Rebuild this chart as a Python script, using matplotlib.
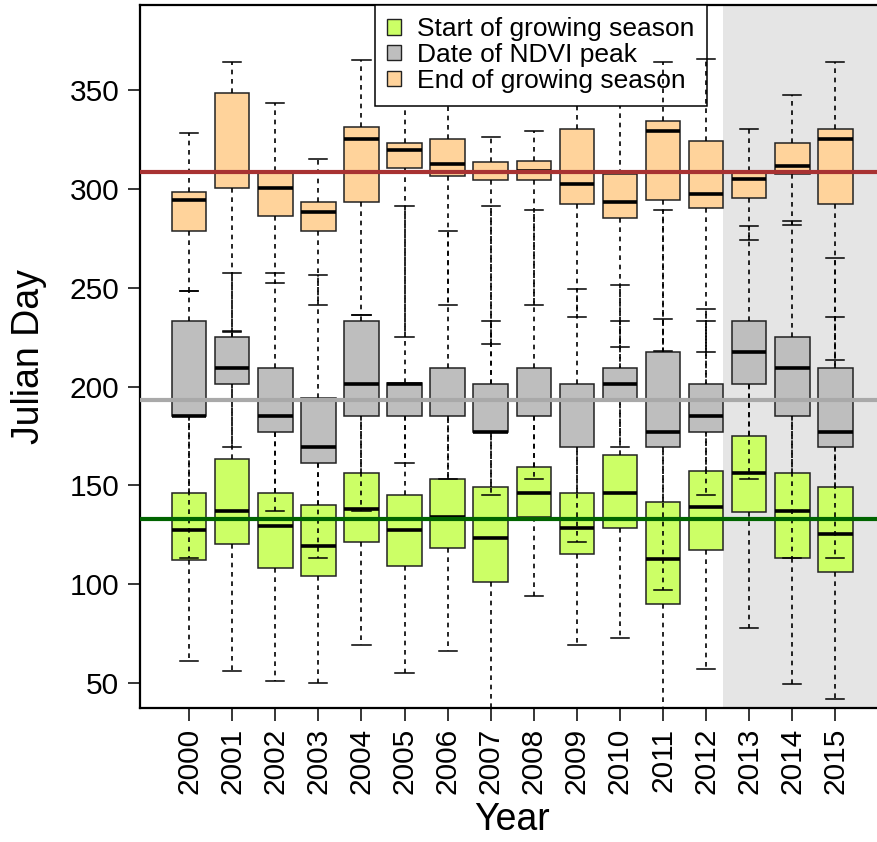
import matplotlib
matplotlib.use("Agg")
import matplotlib.pyplot as plt
from matplotlib.patches import Patch

plt.rcParams['font.family'] = ['Liberation Sans', 'DejaVu Sans']

years = list(range(2000, 2016))

# start of growing season (green)
sos_lo = [61.2, 56.3, 51.2, 50.2, 69.1, 55.3, 66.1, 30.0, 94.2, 69.1, 73.0, 30.0, 57.2, 78.1, 49.3, 42.1]
sos_q1 = [112.3, 120.2, 108.1, 104.2, 121.2, 109.2, 118.2, 101.2, 134.0, 115.1, 128.2, 90.0, 117.2, 136.7, 113.3, 106.2]
sos_med = [127.3, 137.2, 129.2, 119.2, 138.2, 127.3, 134.2, 123.2, 146.2, 128.2, 146.2, 113.0, 139.2, 156.3, 137.2, 125.2]
sos_q3 = [146.3, 163.2, 146.3, 140.2, 156.3, 145.2, 153.2, 149.2, 159.3, 146.3, 165.2, 141.8, 157.1, 175.2, 156.3, 149.2]
sos_hi = [200, 228.1, 195, 175, 200, 193, 195, 233.3, 195, 185, 233.2, 234.2, 233.3, 215, 200, 235.3]

# date of NDVI peak (grey)
peak_lo = [113.4, 169.3, 137.2, 113.4, 137.2, 161.1, 153.2, 145.3, 153.2, 121.2, 169.4, 97.1, 145.3, 153.2, 113.3, 113.3]
peak_q1 = [185.3, 201.3, 177.2, 161.1, 185.3, 185.3, 185.3, 177.2, 185.3, 169.3, 193.3, 169.4, 177.2, 201.3, 185.3, 169.4]
peak_med = [185.3, 209.2, 185.3, 169.3, 201.3, 201.3, 193.3, 177.2, 193.3, 193.3, 201.3, 177.2, 185.3, 217.3, 209.2, 177.2]
peak_q3 = [233.3, 225.2, 209.2, 194.4, 233.3, 201.6, 209.2, 201.1, 209.2, 201.3, 209.2, 217.3, 201.1, 233.3, 225.2, 209.2]
peak_hi = [248.3, 257.3, 257.3, 256.4, 236.3, 291.3, 278.5, 291.3, 289.3, 249.3, 251.4, 289.3, 239.2, 281.2, 283.6, 265.2]

# end of growing season (orange)
eos_lo = [248.3, 227.5, 252.4, 241.3, 236.3, 225.2, 241.3, 221.4, 241.3, 235.3, 220.2, 218.0, 217.3, 274.3, 281.6, 213.3]
eos_q1 = [278.5, 300.3, 286.3, 278.5, 293.3, 310.4, 306.5, 304.3, 304.3, 292.3, 285.3, 294.4, 290.3, 295.4, 307.5, 292.3]
eos_med = [294.4, 308.4, 300.3, 288.3, 325.4, 319.5, 312.4, 308.5, 309.0, 302.5, 293.3, 329.4, 297.4, 304.8, 311.6, 325.4]
eos_q3 = [298.3, 348.3, 309.2, 293.3, 331.3, 323.3, 325.4, 313.4, 314.3, 330.3, 307.5, 334.3, 324.4, 309.2, 323.3, 330.4]
eos_hi = [328.4, 364.3, 343.3, 315.3, 365.2, 375, 375, 326.4, 329.3, 375, 375, 364.3, 365.5, 330.4, 347.3, 364.3]

mean_sos = 133.2
mean_peak = 193.3
mean_eos = 308.4
shade_start = 2012.38

fig = plt.figure(figsize=(8.78, 8.42), dpi=100)
ax = fig.add_axes([140 / 878, 1 - 708.3 / 842, 744.5 / 878, 703.8 / 842])

ax.axvspan(shade_start, 2016.5, color='#e5e5e5', lw=0, zorder=0)


def draw_series(lo, q1, med, q3, hi, color, z):
    stats = []
    for i in range(len(years)):
        stats.append(dict(whislo=lo[i], q1=q1[i], med=med[i], q3=q3[i], whishi=hi[i], label=''))
    return ax.bxp(stats, positions=years, widths=0.8, patch_artist=True, showfliers=False,
                  capwidths=0.42, manage_ticks=False, zorder=z,
                  boxprops=dict(facecolor=color, edgecolor='#222222', linewidth=1.1),
                  medianprops=dict(color='black', linewidth=2.6, solid_capstyle='butt'),
                  whiskerprops=dict(color='black', linewidth=1.2, linestyle=(0, (2.8, 2.8))),
                  capprops=dict(color='black', linewidth=1.1))


draw_series(sos_lo, sos_q1, sos_med, sos_q3, sos_hi, '#ccff66', 2)
draw_series(peak_lo, peak_q1, peak_med, peak_q3, peak_hi, '#bebebe', 3)
eos = draw_series(eos_lo, eos_q1, eos_med, eos_q3, eos_hi, '#ffd39b', 4)

# upper whiskers of 2011 and 2012 sit on top of the legend
for yr in [2011, 2012]:
    i = years.index(yr)
    eos['whiskers'][2 * i + 1].set_zorder(12)
    eos['caps'][2 * i + 1].set_zorder(12)

ax.axhline(mean_eos, color='#a83232', lw=3.0, zorder=6)
ax.axhline(mean_peak, color='#a9a9a9', lw=3.0, zorder=6)
ax.axhline(mean_sos, color='#006400', lw=3.0, zorder=6)

ax.set_xlim(1998.86, 2016.14)
ax.set_ylim(37.25, 393.2)
ax.set_xticks(years)
ax.set_xticklabels([str(y) for y in years], rotation=90)
ax.set_yticks([50, 100, 150, 200, 250, 300, 350])
ax.tick_params(axis='both', labelsize=21.5, length=9, width=1.1, direction='out', pad=6)
ax.tick_params(axis='x', pad=5)
ax.set_xlabel('Year', fontsize=27, labelpad=6)
ax.set_ylabel('Julian Day', fontsize=27, labelpad=16)
for s in ax.spines.values():
    s.set_linewidth(1.6)

handles = [Patch(facecolor='#ccff66', edgecolor='#222222', lw=1.0),
           Patch(facecolor='#bebebe', edgecolor='#222222', lw=1.0),
           Patch(facecolor='#ffd39b', edgecolor='#222222', lw=1.0)]
leg = ax.legend(handles, ['Start of growing season', 'Date of NDVI peak', 'End of growing season'],
                loc='upper right', bbox_to_anchor=(0.762, 1.0), borderaxespad=0, fontsize=19,
                fancybox=False, framealpha=1, edgecolor='black', handlelength=0.53, handleheight=0.53,
                handletextpad=0.6, labelspacing=0.07, borderpad=0.48)
leg.set_zorder(10)
leg.get_frame().set_linewidth(1.1)

fig.savefig('out.png', dpi=100)
